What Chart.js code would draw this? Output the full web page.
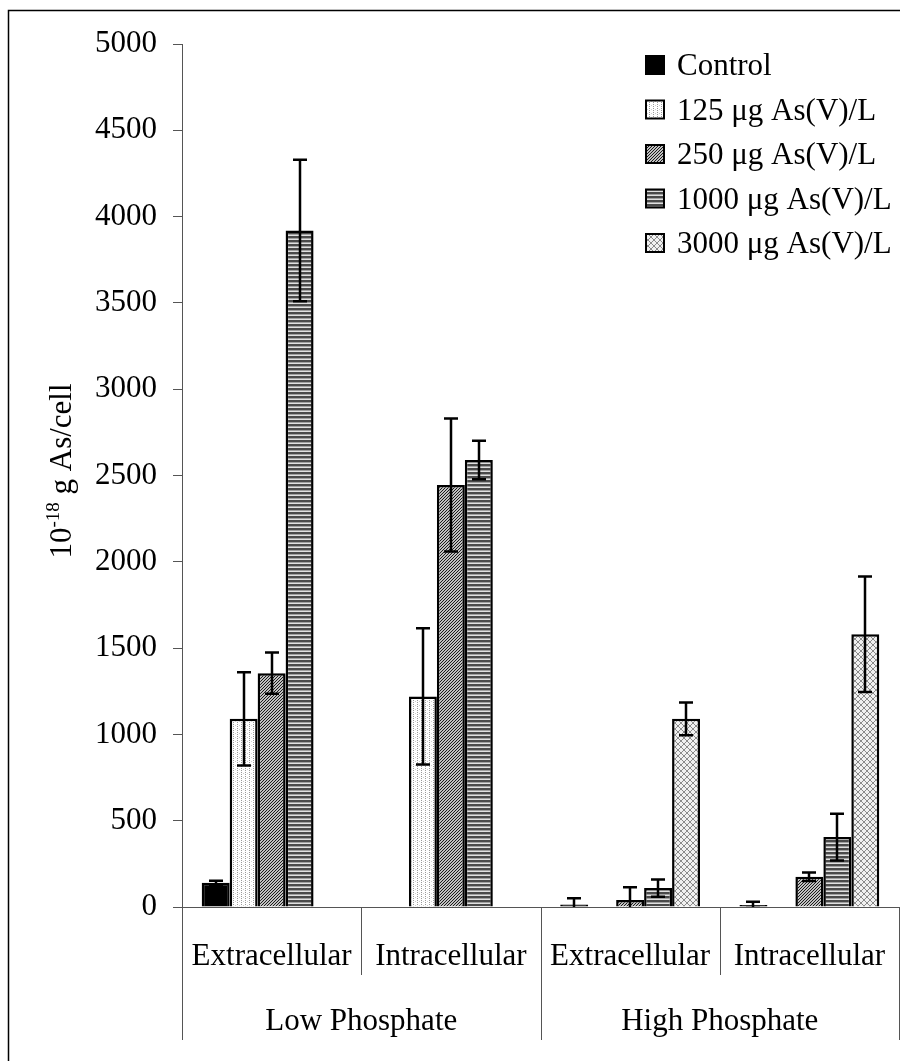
<!DOCTYPE html>
<html>
<head>
<meta charset="utf-8">
<script src="https://cdn.jsdelivr.net/npm/chart.js@4/dist/chart.umd.min.js"></script>
<style>
  html, body { margin: 0; padding: 0; background: #fff; }
  #c { display: block; }
</style>
</head>
<body>
<canvas id="c" width="900" height="1061"></canvas>
<script>
// ---- data ----
const categories = ['Extracellular', 'Intracellular', 'Extracellular', 'Intracellular'];
const groups = ['Low Phosphate', 'High Phosphate'];
const seriesNames = ['Control', '125 μg As(V)/L', '250 μg As(V)/L', '1000 μg As(V)/L', '3000 μg As(V)/L'];
const controlVals = [140, null, 15, 12];
const as125Vals = [1090, 1220, null, null];
const as250Vals = [1355, 2445, 40, 175];
const as1000Vals = [3920, 2590, 110, 405];
const as3000Vals = [null, null, 1090, 1580];
const controlErr = [12, null, 35, 18];
const as125Err = [270, 395, null, null];
const as250Err = [120, 385, 75, 25];
const as1000Err = [410, 112, 50, 135];
const as3000Err = [null, null, 95, 335];
const yTicks = { min: 0, max: 5000, step: 500 };
const yTitleMain = '10', yTitleSup = '-18', yTitleRest = ' g As/cell';

const FONT = '"Liberation Serif", "Times New Roman", serif';
const FS = 31;

// ---- patterns ----
function makePattern(w, h, draw) {
  const c = document.createElement('canvas');
  c.width = w; c.height = h;
  const g = c.getContext('2d');
  draw(g);
  return document.getElementById('c').getContext('2d').createPattern(c, 'repeat');
}
const pControl = '#000000';
const p125 = makePattern(4, 4, g => {
  g.fillStyle = '#ffffff'; g.fillRect(0, 0, 4, 4);
  g.fillStyle = '#9a9a9a'; g.fillRect(1, 0, 1, 1); g.fillRect(1, 2, 1, 1);
  g.fillStyle = '#d0d0d0'; g.fillRect(3, 1, 1, 1);
});
const p250 = makePattern(3, 3, g => {
  g.fillStyle = '#c0c0c0'; g.fillRect(0, 0, 3, 3);
  g.fillStyle = '#1a1a1a';
  g.fillRect(0, 2, 1, 1); g.fillRect(1, 1, 1, 1); g.fillRect(2, 0, 1, 1);
});
const p1000 = makePattern(4, 4, g => {
  g.fillStyle = '#4a4a4a'; g.fillRect(0, 0, 4, 2);
  g.fillStyle = '#a0a0a0'; g.fillRect(0, 2, 4, 1);
  g.fillStyle = '#e0e0e0'; g.fillRect(0, 3, 4, 1);
});
const p3000 = makePattern(6, 6, g => {
  g.fillStyle = '#f0f0f0'; g.fillRect(0, 0, 6, 6);
  g.fillStyle = '#8a8a8a';
  for (let i = 0; i < 6; i++) { g.fillRect(i, i, 1, 1); g.fillRect(5 - i, i, 1, 1); }
});
const fills = [pControl, p125, p250, p1000, p3000];
const seriesVals = [controlVals, as125Vals, as250Vals, as1000Vals, as3000Vals];
const seriesErrs = [controlErr, as125Err, as250Err, as1000Err, as3000Err];

const datasets = seriesNames.map((name, i) => ({
  label: name,
  data: seriesVals[i],
  errors: seriesErrs[i],
  backgroundColor: fills[i],
  borderColor: '#000000',
  borderWidth: 2.5,
  categoryPercentage: 0.78,
  barPercentage: 1.0
}));

const customPlugin = {
  id: 'customDraw',
  beforeDraw(chart) {
    const ctx = chart.ctx;
    ctx.save();
    ctx.fillStyle = '#ffffff';
    ctx.fillRect(0, 0, chart.width, chart.height);
    ctx.restore();
  },
  afterDatasetsDraw(chart) {
    const ctx = chart.ctx;
    const y = chart.scales.y;
    const area = chart.chartArea;
    ctx.save();
    ctx.beginPath();
    ctx.rect(area.left, area.top - 20, area.right - area.left, area.bottom - area.top + 20);
    ctx.clip();
    ctx.strokeStyle = '#000000';
    ctx.lineWidth = 2.5;
    chart.data.datasets.forEach((ds, i) => {
      const meta = chart.getDatasetMeta(i);
      meta.data.forEach((bar, j) => {
        const v = ds.data[j], e = ds.errors[j];
        if (v == null || e == null) return;
        const x = Math.round(bar.x);
        const yt = y.getPixelForValue(v + e);
        const yb = y.getPixelForValue(v - e);
        ctx.beginPath();
        ctx.moveTo(x, yt); ctx.lineTo(x, yb);
        ctx.moveTo(x - 7, yt); ctx.lineTo(x + 7, yt);
        ctx.moveTo(x - 7, yb); ctx.lineTo(x + 7, yb);
        ctx.stroke();
      });
    });
    ctx.restore();
  },
  afterDraw(chart) {
    const ctx = chart.ctx;
    const xs = chart.scales.x;
    const area = chart.chartArea;
    ctx.save();
    // outer frame
    ctx.strokeStyle = '#000000';
    ctx.lineWidth = 1.5;
    ctx.beginPath();
    ctx.moveTo(8.5, chart.height + 2);
    ctx.lineTo(8.5, 10.5);
    ctx.lineTo(chart.width + 2, 10.5);
    ctx.stroke();

    // category separators and labels
    const n = categories.length;
    const catW = (xs.right - xs.left) / n;
    ctx.strokeStyle = '#555555';
    ctx.lineWidth = 1;
    for (let b = 0; b <= n; b++) {
      const bx = Math.round(xs.left + b * catW) + 0.5;
      const long = (b % 2 === 0);
      ctx.beginPath();
      ctx.moveTo(bx, area.bottom);
      ctx.lineTo(bx, long ? 1040 : 975);
      ctx.stroke();
    }
    ctx.fillStyle = '#000000';
    ctx.font = FS + 'px ' + FONT;
    ctx.textAlign = 'center';
    ctx.textBaseline = 'alphabetic';
    categories.forEach((c, i) => {
      ctx.fillText(c, xs.getPixelForValue(i), 965);
    });
    groups.forEach((g, gi) => {
      const cx = (xs.getPixelForValue(gi * 2) + xs.getPixelForValue(gi * 2 + 1)) / 2;
      ctx.fillText(g, cx, 1030);
    });

    // y title with superscript
    ctx.save();
    ctx.translate(71, 471);
    ctx.rotate(-Math.PI / 2);
    ctx.textAlign = 'left';
    const bigF = FS + 'px ' + FONT, smallF = '19px ' + FONT;
    ctx.font = bigF; const w1 = ctx.measureText(yTitleMain).width;
    ctx.font = smallF; const w2 = ctx.measureText(yTitleSup).width;
    ctx.font = bigF; const w3 = ctx.measureText(yTitleRest).width;
    let sx = -(w1 + w2 + w3) / 2;
    ctx.font = bigF; ctx.fillText(yTitleMain, sx, 0);
    ctx.font = smallF; ctx.fillText(yTitleSup, sx + w1, -12);
    ctx.font = bigF; ctx.fillText(yTitleRest, sx + w1 + w2, 0);
    ctx.restore();

    // legend
    ctx.textAlign = 'left';
    ctx.font = FS + 'px ' + FONT;
    seriesNames.forEach((name, i) => {
      const top = 56 + i * 44.5;
      ctx.fillStyle = fills[i];
      ctx.fillRect(646, top, 18, 18);
      ctx.strokeStyle = '#000000';
      ctx.lineWidth = 2;
      ctx.strokeRect(646, top, 18, 18);
      ctx.fillStyle = '#000000';
      ctx.fillText(name, 677, top + 19);
    });
    ctx.restore();
  }
};

new Chart(document.getElementById('c'), {
  type: 'bar',
  data: { labels: categories, datasets },
  options: {
    responsive: false,
    animation: false,
    events: [],
    layout: { padding: { top: 44, right: 1, left: 0, bottom: 0 } },
    plugins: { legend: { display: false }, title: { display: false }, tooltip: { enabled: false } },
    scales: {
      x: {
        offset: true,
        ticks: { display: false },
        grid: { display: false },
        border: { display: true, color: '#555555', width: 1 },
        afterFit(scale) { scale.height = 154; }
      },
      y: {
        min: yTicks.min,
        max: yTicks.max,
        ticks: {
          stepSize: yTicks.step, color: '#000000', padding: 16,
          font: { family: FONT, size: FS },
          callback: v => String(v)
        },
        grid: { drawOnChartArea: false, drawTicks: true, tickLength: 9, color: '#555555' },
        border: { display: true, color: '#555555', width: 1 },
        afterFit(scale) { scale.width = 182; }
      }
    }
  },
  plugins: [customPlugin]
});
</script>
</body>
</html>
